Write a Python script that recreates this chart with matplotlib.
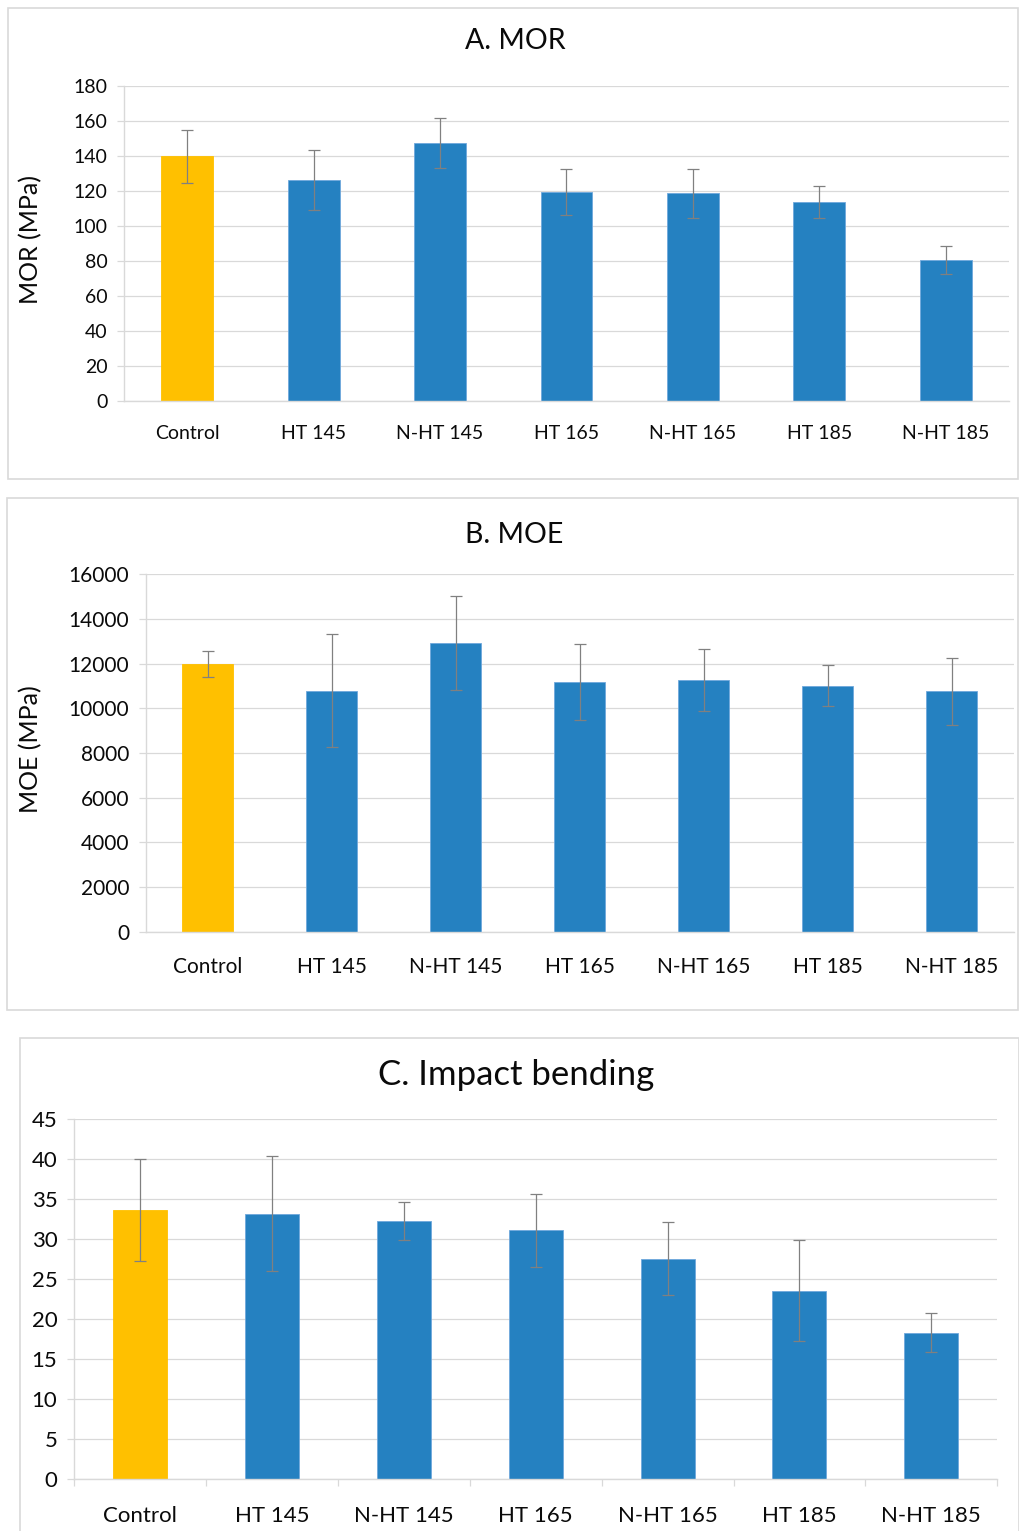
"""Three-panel bar chart: MOR, MOE and impact bending for control and heat-treated wood."""
import matplotlib

matplotlib.use("Agg")

import matplotlib.pyplot as plt  # noqa: E402
from matplotlib.patches import Rectangle  # noqa: E402

plt.rcParams["font.family"] = ["Lato", "DejaVu Sans"]

CATEGORIES = ["Control", "HT 145", "N-HT 145", "HT 165", "N-HT 165", "HT 185", "N-HT 185"]

MOR_MEAN = [140, 126.5, 147.5, 119.5, 119, 114, 81]
MOR_SD = [15, 17, 14.3, 13, 14, 9.2, 8]

MOE_MEAN = [11980, 10780, 12920, 11170, 11260, 11020, 10770]
MOE_SD = [600, 2530, 2100, 1700, 1390, 920, 1500]

IMPACT_MEAN = [33.65, 33.2, 32.25, 31.1, 27.55, 23.55, 18.3]
IMPACT_SD = [6.35, 7.2, 2.4, 4.6, 4.55, 6.35, 2.45]

CONTROL_COLOR = "#FFC000"
TREATED_COLOR = "#2581C1"
GRID_COLOR = "#D9D9D9"
TEXT_COLOR = "#0A0A0A"

W, H = 1019, 1531


def px_rect(x0, y0, x1, y1):
    """Pixel box (top-left origin) -> figure-fraction [left, bottom, width, height]."""
    return [x0 / W, 1 - y1 / H, (x1 - x0) / W, (y1 - y0) / H]


def panel_box(fig, x0, y0, x1, y1):
    left, bottom, width, height = px_rect(x0, y0, x1, y1)
    fig.add_artist(Rectangle((left, bottom), width, height, transform=fig.transFigure,
                             fill=False, edgecolor=GRID_COLOR, linewidth=1.2, zorder=0))


def draw_panel(fig, axes_px, means, sds, ymax, ystep, tick_size, xpad, boundary_ticks=False):
    ax = fig.add_axes(px_rect(*axes_px))
    x = list(range(len(CATEGORIES)))
    colors = [CONTROL_COLOR] + [TREATED_COLOR] * (len(CATEGORIES) - 1)
    edges = [CONTROL_COLOR] + ["#6FA8DC"] * (len(CATEGORIES) - 1)
    ax.bar(x, means, width=0.41, color=colors, edgecolor=edges, linewidth=0.6, zorder=2)
    ax.errorbar(x, means, yerr=sds, fmt="none", ecolor="#808080", elinewidth=0.9,
                capsize=4, capthick=0.9, zorder=3)

    ax.set_xlim(-0.5, len(CATEGORIES) - 0.5)
    ax.set_ylim(0, ymax)
    ax.set_yticks([ystep * i for i in range(int(round(ymax / ystep)) + 1)])
    ax.set_xticks(x)
    ax.set_xticklabels(CATEGORIES)

    ax.grid(axis="y", color=GRID_COLOR, linewidth=0.9, zorder=0)
    ax.set_axisbelow(True)
    for side in ("top", "right"):
        ax.spines[side].set_visible(False)
    for side in ("left", "bottom"):
        ax.spines[side].set_color(GRID_COLOR)
        ax.spines[side].set_linewidth(1.0)

    ax.tick_params(axis="y", length=5, width=0.9, color=GRID_COLOR, pad=7,
                   labelsize=tick_size, labelcolor=TEXT_COLOR)
    ax.tick_params(axis="x", length=0, pad=xpad, labelsize=tick_size, labelcolor=TEXT_COLOR)
    if boundary_ticks:
        # category separators on the x axis
        ax.set_xticks([i - 0.5 for i in range(len(CATEGORIES) + 1)], minor=True)
        ax.tick_params(axis="x", which="minor", length=5, width=0.9, color=GRID_COLOR)
    return ax


fig = plt.figure(figsize=(W / 100, H / 100), dpi=100)
fig.patch.set_facecolor("white")

# A. MOR
panel_box(fig, 8, 8, 1018, 479)
draw_panel(fig, (124, 86.3, 1009, 401.3), MOR_MEAN, MOR_SD, 180, 20, 14, 17)
fig.text(515 / W, 1 - 41 / H, "A. MOR", ha="center", va="center", fontsize=20.5, color=TEXT_COLOR)
fig.text(31 / W, 1 - 239 / H, "MOR (MPa)", ha="center", va="center", rotation=90,
         fontsize=18, color=TEXT_COLOR)

# B. MOE
panel_box(fig, 7, 498, 1018, 1010)
draw_panel(fig, (145.7, 574.3, 1013.7, 931.7), MOE_MEAN, MOE_SD, 16000, 2000, 15, 18)
fig.text(514 / W, 1 - 535 / H, "B. MOE", ha="center", va="center", fontsize=20.5, color=TEXT_COLOR)
fig.text(31 / W, 1 - 749 / H, "MOE (MPa)", ha="center", va="center", rotation=90,
         fontsize=18, color=TEXT_COLOR)

# C. Impact bending
panel_box(fig, 20, 1038, 1018.5, 1545)
draw_panel(fig, (74, 1119.3, 997.3, 1478.7), IMPACT_MEAN, IMPACT_SD, 45, 5, 16, 20,
           boundary_ticks=True)
fig.text(516 / W, 1 - 1075 / H, "C. Impact bending", ha="center", va="center",
         fontsize=25, color=TEXT_COLOR)

fig.savefig("out.png", dpi=100, facecolor="white")
